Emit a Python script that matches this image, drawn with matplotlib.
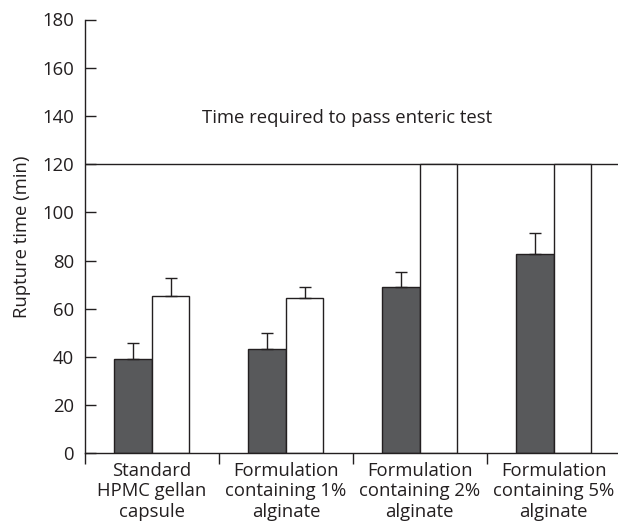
import matplotlib
matplotlib.use("Agg")
import matplotlib.pyplot as plt
import numpy as np

categories = ["Standard\nHPMC gellan\ncapsule",
              "Formulation\ncontaining 1%\nalginate",
              "Formulation\ncontaining 2%\nalginate",
              "Formulation\ncontaining 5%\nalginate"]
dark_values = [39.2, 43.4, 69.1, 82.8]
dark_errors = [6.4, 6.4, 6.2, 8.6]
white_values = [65.2, 64.5, 120, 120]
white_errors = [7.6, 4.6, 0, 0]
threshold = 120
yticks = [0, 20, 40, 60, 80, 100, 120, 140, 160, 180]

plt.rcParams['font.family'] = ['Open Sans', 'DejaVu Sans']
fs = 13.3

fig = plt.figure(figsize=(6.18, 5.23), dpi=100)
ax = fig.add_axes([85/618, (523-453.3)/523, 533/618, (453.3-19.5)/523])

x = np.arange(len(categories))
w = 0.28
ax.bar(x - w/2, dark_values, w, color="#58595b", edgecolor="#231f20", linewidth=1.0, zorder=2)
ax.bar(x + w/2, white_values, w, color="white", edgecolor="#231f20", linewidth=1.0, zorder=2)

for xi, v, e in zip(x - w/2, dark_values, dark_errors):
    if e > 0:
        ax.errorbar(xi, v, yerr=[[0], [e]], fmt="none", ecolor="#231f20", elinewidth=1.0, capsize=4, capthick=1.0, zorder=3)
for xi, v, e in zip(x + w/2, white_values, white_errors):
    if e > 0:
        ax.errorbar(xi, v, yerr=[[0], [e]], fmt="none", ecolor="#231f20", elinewidth=1.0, capsize=4, capthick=1.0, zorder=3)

ax.axhline(threshold, color="#231f20", linewidth=1.0, zorder=1)
ax.text(1.455, 139, "Time required to pass enteric test", ha="center", va="center", fontsize=fs, color="#231f20")

ax.set_xlim(-0.5, 3.48)
ax.set_ylim(0, 180)
ax.set_yticks(yticks)
ax.set_yticklabels([str(t) for t in yticks], fontsize=fs, color="#231f20")
ax.tick_params(axis="y", direction="in", length=8, width=1.0, color="#231f20", pad=8)

ax.set_xticks(x)
ax.set_xticklabels(categories, fontsize=fs, color="#231f20", linespacing=1.2)
ax.tick_params(axis="x", which="major", length=0, pad=6)
ax.set_xticks([-0.5, 0.5, 1.5, 2.5], minor=True)
ax.tick_params(axis="x", which="minor", direction="out", length=8, width=1.0, color="#231f20")

for s in ["top", "right"]:
    ax.spines[s].set_visible(False)
for s in ["left", "bottom"]:
    ax.spines[s].set_linewidth(1.0)
    ax.spines[s].set_color("#231f20")

ax.set_ylabel("Rupture time (min)", fontsize=fs, color="#231f20", labelpad=8)

fig.savefig("out.png", dpi=100)
